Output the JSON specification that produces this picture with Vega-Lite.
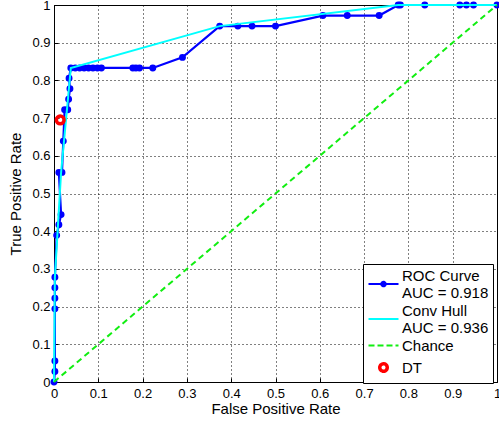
{
  "$schema": "https://vega.github.io/schema/vega-lite/v6.json",
  "width": 443,
  "height": 377,
  "autosize": {"type": "none"},
  "padding": {"left": 54, "top": 5, "right": 2, "bottom": 43},
  "background": "white",
  "config": {
    "view": {"stroke": "black", "strokeWidth": 1},
    "font": "Liberation Sans",
    "axis": {
      "labelFont": "Liberation Sans", "labelFontSize": 13, "labelColor": "black",
      "titleFont": "Liberation Sans", "titleFontSize": 15, "titleFontWeight": "normal", "titleColor": "black",
      "domainColor": "black", "tickColor": "black", "tickSize": -4,
      "gridColor": "black", "gridDash": [1, 3], "gridOpacity": 1, "gridWidth": 1
    }
  },
  "data": {
    "values": [
      {"series": "ROC Curve|AUC = 0.918", "i": 0, "fpr": 0, "tpr": 0},
      {"series": "ROC Curve|AUC = 0.918", "i": 1, "fpr": 0.002, "tpr": 0.028},
      {"series": "ROC Curve|AUC = 0.918", "i": 2, "fpr": 0.002, "tpr": 0.056},
      {"series": "ROC Curve|AUC = 0.918", "i": 3, "fpr": 0.002, "tpr": 0.194},
      {"series": "ROC Curve|AUC = 0.918", "i": 4, "fpr": 0.002, "tpr": 0.222},
      {"series": "ROC Curve|AUC = 0.918", "i": 5, "fpr": 0.002, "tpr": 0.25},
      {"series": "ROC Curve|AUC = 0.918", "i": 6, "fpr": 0.002, "tpr": 0.278},
      {"series": "ROC Curve|AUC = 0.918", "i": 7, "fpr": 0.006, "tpr": 0.389},
      {"series": "ROC Curve|AUC = 0.918", "i": 8, "fpr": 0.011, "tpr": 0.417},
      {"series": "ROC Curve|AUC = 0.918", "i": 9, "fpr": 0.016, "tpr": 0.444},
      {"series": "ROC Curve|AUC = 0.918", "i": 10, "fpr": 0.011, "tpr": 0.556},
      {"series": "ROC Curve|AUC = 0.918", "i": 11, "fpr": 0.018, "tpr": 0.556},
      {"series": "ROC Curve|AUC = 0.918", "i": 12, "fpr": 0.021, "tpr": 0.639},
      {"series": "ROC Curve|AUC = 0.918", "i": 13, "fpr": 0.024, "tpr": 0.722},
      {"series": "ROC Curve|AUC = 0.918", "i": 14, "fpr": 0.031, "tpr": 0.722},
      {"series": "ROC Curve|AUC = 0.918", "i": 15, "fpr": 0.033, "tpr": 0.75},
      {"series": "ROC Curve|AUC = 0.918", "i": 16, "fpr": 0.036, "tpr": 0.778},
      {"series": "ROC Curve|AUC = 0.918", "i": 17, "fpr": 0.034, "tpr": 0.806},
      {"series": "ROC Curve|AUC = 0.918", "i": 18, "fpr": 0.038, "tpr": 0.833},
      {"series": "ROC Curve|AUC = 0.918", "i": 19, "fpr": 0.048, "tpr": 0.833},
      {"series": "ROC Curve|AUC = 0.918", "i": 20, "fpr": 0.058, "tpr": 0.833},
      {"series": "ROC Curve|AUC = 0.918", "i": 21, "fpr": 0.068, "tpr": 0.833},
      {"series": "ROC Curve|AUC = 0.918", "i": 22, "fpr": 0.078, "tpr": 0.833},
      {"series": "ROC Curve|AUC = 0.918", "i": 23, "fpr": 0.088, "tpr": 0.833},
      {"series": "ROC Curve|AUC = 0.918", "i": 24, "fpr": 0.098, "tpr": 0.833},
      {"series": "ROC Curve|AUC = 0.918", "i": 25, "fpr": 0.107, "tpr": 0.833},
      {"series": "ROC Curve|AUC = 0.918", "i": 26, "fpr": 0.178, "tpr": 0.833},
      {"series": "ROC Curve|AUC = 0.918", "i": 27, "fpr": 0.185, "tpr": 0.833},
      {"series": "ROC Curve|AUC = 0.918", "i": 28, "fpr": 0.193, "tpr": 0.833},
      {"series": "ROC Curve|AUC = 0.918", "i": 29, "fpr": 0.223, "tpr": 0.833},
      {"series": "ROC Curve|AUC = 0.918", "i": 30, "fpr": 0.29, "tpr": 0.861},
      {"series": "ROC Curve|AUC = 0.918", "i": 31, "fpr": 0.374, "tpr": 0.944},
      {"series": "ROC Curve|AUC = 0.918", "i": 32, "fpr": 0.415, "tpr": 0.944},
      {"series": "ROC Curve|AUC = 0.918", "i": 33, "fpr": 0.447, "tpr": 0.944},
      {"series": "ROC Curve|AUC = 0.918", "i": 34, "fpr": 0.5, "tpr": 0.944},
      {"series": "ROC Curve|AUC = 0.918", "i": 35, "fpr": 0.607, "tpr": 0.972},
      {"series": "ROC Curve|AUC = 0.918", "i": 36, "fpr": 0.662, "tpr": 0.972},
      {"series": "ROC Curve|AUC = 0.918", "i": 37, "fpr": 0.734, "tpr": 0.972},
      {"series": "ROC Curve|AUC = 0.918", "i": 38, "fpr": 0.777, "tpr": 1},
      {"series": "ROC Curve|AUC = 0.918", "i": 39, "fpr": 0.782, "tpr": 1},
      {"series": "ROC Curve|AUC = 0.918", "i": 40, "fpr": 0.837, "tpr": 1},
      {"series": "ROC Curve|AUC = 0.918", "i": 41, "fpr": 0.916, "tpr": 1},
      {"series": "ROC Curve|AUC = 0.918", "i": 42, "fpr": 0.931, "tpr": 1},
      {"series": "ROC Curve|AUC = 0.918", "i": 43, "fpr": 0.947, "tpr": 1},
      {"series": "ROC Curve|AUC = 0.918", "i": 44, "fpr": 1, "tpr": 1},
      {"series": "Conv Hull|AUC = 0.936", "i": 0, "fpr": 0, "tpr": 0},
      {"series": "Conv Hull|AUC = 0.936", "i": 1, "fpr": 0.002, "tpr": 0.278},
      {"series": "Conv Hull|AUC = 0.936", "i": 2, "fpr": 0.016, "tpr": 0.556},
      {"series": "Conv Hull|AUC = 0.936", "i": 3, "fpr": 0.038, "tpr": 0.833},
      {"series": "Conv Hull|AUC = 0.936", "i": 4, "fpr": 0.374, "tpr": 0.944},
      {"series": "Conv Hull|AUC = 0.936", "i": 5, "fpr": 0.777, "tpr": 1},
      {"series": "Conv Hull|AUC = 0.936", "i": 6, "fpr": 1, "tpr": 1},
      {"series": "Chance", "i": 0, "fpr": 0, "tpr": 0},
      {"series": "Chance", "i": 1, "fpr": 1, "tpr": 1},
      {"series": "DT", "i": 0, "fpr": 0.014, "tpr": 0.695}
    ]
  },
  "encoding": {
    "x": {"field": "fpr", "type": "quantitative", "title": "False Positive Rate",
      "scale": {"domain": [0, 1], "nice": false},
      "axis": {"values": [0, 0.1, 0.2, 0.3, 0.4, 0.5, 0.6, 0.7, 0.8, 0.9, 1], "format": "~g", "labelPadding": 9, "titlePadding": 1, "labelFlush": false}},
    "y": {"field": "tpr", "type": "quantitative", "title": "True Positive Rate",
      "scale": {"domain": [0, 1], "nice": false},
      "axis": {"values": [0, 0.1, 0.2, 0.3, 0.4, 0.5, 0.6, 0.7, 0.8, 0.9, 1], "format": "~g", "labelPadding": 8, "titlePadding": 8, "labelFlush": false}},
    "color": {"field": "series", "type": "nominal",
      "scale": {"domain": ["ROC Curve|AUC = 0.918", "Conv Hull|AUC = 0.936", "Chance", "DT"],
                "range": ["#0000ff", "#00ffff", "#11ee11", "#ff0000"]},
      "legend": {
        "title": null, "orient": "none", "legendX": 309, "legendY": 259,
        "strokeColor": "black", "fillColor": "white", "padding": 4, "cornerRadius": 0,
        "labelFont": "Liberation Sans", "labelFontSize": 15, "labelColor": "black",
        "labelExpr": "split(datum.label, '|')", "labelOffset": 11, "labelLimit": 200,
        "symbolSize": 900, "symbolOffset": 9, "rowPadding": 2,
        "encode": {
          "labels": {"update": {"lineHeight": {"value": 17}}},
          "symbols": {"update": {
          "shape": {"signal": "datum.value == 'DT' ? 'M-0.25,0a0.25,0.25 0 1,0 0.5,0a0.25,0.25 0 1,0 -0.5,0' : (indexof(datum.value, 'ROC') >= 0 ? 'M-1,0.57L1,0.57M-0.15,0.57a0.15,0.15 0 1,0 0.3,0a0.15,0.15 0 1,0 -0.3,0' : indexof(datum.value, 'Conv') >= 0 ? 'M-1,0.57L1,0.57' : 'M-1,0L1,0')"},
          "fill": {"signal": "indexof(datum.value, 'ROC') >= 0 ? '#0000ff' : 'white'"},
          "fillOpacity": {"signal": "indexof(datum.value, 'ROC') >= 0 ? 1 : 0"},
          "stroke": {"signal": "indexof(datum.value, 'ROC') >= 0 ? '#0000ff' : indexof(datum.value, 'Conv') >= 0 ? '#00ffff' : datum.value == 'Chance' ? '#11ee11' : '#ff0000'"},
          "strokeDash": {"signal": "datum.value == 'Chance' ? [6, 3] : [1, 0]"},
          "strokeWidth": {"signal": "datum.value == 'DT' ? 3.5 : 2"},
          "opacity": {"value": 1},
          "size": {"value": 900}
        }}}
      }
    }
  },
  "layer": [
    {"transform": [{"filter": "datum.series == 'ROC Curve|AUC = 0.918'"}],
     "mark": {"type": "line", "strokeWidth": 2.2},
     "encoding": {"order": {"field": "i", "type": "quantitative"}}},
    {"transform": [{"filter": "datum.series == 'ROC Curve|AUC = 0.918'"}],
     "mark": {"type": "point", "filled": true, "size": 48, "opacity": 1}},
    {"transform": [{"filter": "datum.series == 'Conv Hull|AUC = 0.936'"}],
     "mark": {"type": "line", "strokeWidth": 2},
     "encoding": {"order": {"field": "i", "type": "quantitative"}}},
    {"transform": [{"filter": "datum.series == 'Chance'"}],
     "mark": {"type": "line", "strokeWidth": 2, "strokeDash": [6, 4]},
     "encoding": {"order": {"field": "i", "type": "quantitative"}}},
    {"transform": [{"filter": "datum.series == 'DT'"}],
     "mark": {"type": "point", "filled": false, "size": 60, "strokeWidth": 3.5, "opacity": 1}}
  ]
}
